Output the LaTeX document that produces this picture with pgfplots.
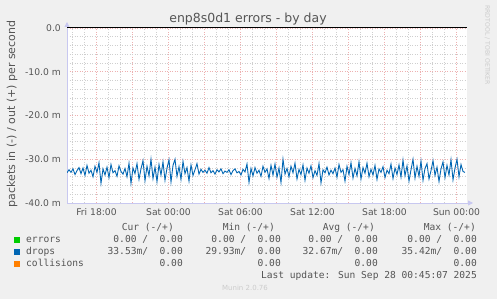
\documentclass[border=0pt]{standalone}
\usepackage{pgfplots}
\pgfplotsset{compat=1.18}
\usepackage{fontspec}
\setmainfont{DejaVu Sans}
\newfontfamily\monofont{DejaVu Sans Mono}
\usetikzlibrary{arrows.meta}
\definecolor{bgcol}{HTML}{F0F0F0}
\definecolor{txtcol}{HTML}{555555}
\definecolor{axcol}{HTML}{C8C8F0}
\definecolor{majcol}{HTML}{EDB0B0}
\definecolor{mincol}{HTML}{CFCFCF}
\definecolor{errcol}{HTML}{00CC00}
\definecolor{dropcol}{HTML}{0066B3}
\definecolor{colcol}{HTML}{FF8000}
\definecolor{faint}{HTML}{CCCCCC}

\pgfplotstableread{
x y
0 -33.1
1 -32.4
2 -33.0
3 -32.2
4 -33.5
5 -32.6
6 -31.9
7 -33.3
8 -32.0
9 -33.7
10 -31.4
11 -33.2
12 -32.5
13 -34.0
14 -31.6
15 -33.0
16 -30.8
17 -35.5
18 -32.2
19 -33.6
20 -31.8
21 -34.2
22 -31.2
23 -33.1
24 -32.6
25 -33.9
26 -31.5
27 -32.8
28 -33.4
29 -32.1
30 -34.0
31 -30.9
32 -35.5
33 -32.0
34 -33.3
35 -31.0
36 -34.6
37 -32.2
38 -30.3
39 -34.9
40 -31.6
41 -33.8
42 -30.0
43 -34.4
44 -31.8
45 -35.1
46 -31.2
47 -33.6
48 -30.6
49 -34.8
50 -32.0
51 -30.1
52 -35.2
53 -31.4
54 -30.0
55 -33.9
56 -31.7
57 -34.6
58 -30.5
59 -33.3
60 -31.9
61 -35.0
62 -31.3
63 -33.7
64 -32.4
65 -31.0
66 -33.4
67 -32.3
68 -33.0
69 -32.5
70 -33.2
71 -31.9
72 -33.1
73 -32.6
74 -33.4
75 -32.4
76 -32.9
77 -32.2
78 -33.3
79 -32.7
80 -33.0
81 -32.4
82 -33.5
83 -32.6
84 -32.2
85 -33.1
86 -32.8
87 -33.6
88 -32.3
89 -32.9
90 -31.1
91 -35.3
92 -32.1
93 -33.8
94 -31.9
95 -33.2
96 -32.5
97 -33.9
98 -31.6
99 -33.0
100 -32.2
101 -34.4
102 -31.4
103 -33.6
104 -31.1
105 -34.1
106 -32.0
107 -35.3
108 -30.0
109 -33.4
110 -32.1
111 -34.0
112 -31.6
113 -33.1
114 -30.9
115 -34.5
116 -32.3
117 -33.5
118 -31.3
119 -34.8
120 -32.0
121 -33.2
122 -31.5
123 -34.2
124 -32.6
125 -33.7
126 -31.0
127 -35.4
128 -32.4
129 -33.1
130 -31.8
131 -33.6
132 -32.5
133 -33.3
134 -32.0
135 -34.1
136 -31.2
137 -33.0
138 -32.4
139 -35.0
140 -31.6
141 -33.5
142 -30.8
143 -34.3
144 -32.1
145 -33.8
146 -30.6
147 -34.5
148 -31.9
149 -33.2
150 -30.9
151 -34.0
152 -32.3
153 -33.6
154 -31.4
155 -34.6
156 -32.2
157 -33.0
158 -31.7
159 -34.2
160 -32.5
161 -33.3
162 -31.1
163 -34.4
164 -32.0
165 -33.5
166 -31.3
167 -34.1
168 -30.2
169 -33.8
170 -31.5
171 -35.0
172 -32.4
173 -30.0
174 -34.3
175 -31.6
176 -33.9
177 -30.4
178 -34.8
179 -32.1
180 -31.0
181 -34.5
182 -32.6
183 -30.3
184 -33.7
185 -31.8
186 -35.1
187 -32.2
188 -30.6
189 -34.2
190 -31.4
191 -33.6
192 -30.1
193 -34.7
194 -32.0
195 -30.0
196 -34.0
197 -31.2
198 -32.8
199 -33.0
}\drops

\begin{document}
\begin{tikzpicture}[x=1pt,y=1pt]
\fill[bgcol] (0,0) rectangle (497,299);
\begin{axis}[
  at={(67pt,96pt)}, anchor=south west,
  scale only axis, width=400pt, height=175pt,
  xmin=0, xmax=200, ymin=-40, ymax=0,
  axis lines=left,
  axis background/.style={fill=white},
  axis line style={draw=axcol, line width=0.8pt},
  x axis line style={-{Triangle[length=5pt,width=5pt]}, shorten >=-6pt},
  y axis line style={-{Triangle[length=5pt,width=5pt]}, shorten >=-6pt},
  xtick={14.75,32.75,50.75,68.75,86.75,104.75,122.75,140.75,158.75,176.75,194.75},
  xticklabels={Fri 18:00,,Sat 00:00,,Sat 06:00,,Sat 12:00,,Sat 18:00,,Sun 00:00},
  minor xtick={2.75,8.75,20.75,26.75,38.75,44.75,56.75,62.75,74.75,80.75,92.75,98.75,110.75,116.75,128.75,134.75,146.75,152.75,164.75,170.75,182.75,188.75},
  ytick={-40,-30,-20,-10,0},
  yticklabels={-40.0 m,-30.0 m,-20.0 m,-10.0 m,0.0},
  minor ytick={-38,-36,-34,-32,-28,-26,-24,-22,-18,-16,-14,-12,-8,-6,-4,-2},
  major tick length=0pt, minor tick length=0pt,
  grid=both,
  major grid style={draw=majcol, dash pattern=on 1pt off 1.5pt, line width=0.5pt},
  minor grid style={draw=mincol, dash pattern=on 1pt off 1.5pt, line width=0.5pt},
  yticklabel style={font=\fontsize{9.2}{10}\selectfont, text=txtcol, inner sep=0pt, anchor=east, xshift=-6pt},
  xticklabel style={font=\fontsize{9.2}{10}\selectfont, text=txtcol, inner sep=0pt, anchor=north, yshift=-5pt},
]
\addplot[draw=dropcol, line width=0.9pt, mark=none] table[x=x,y=y] {\drops};
\addplot[draw=black, line width=1pt, mark=none] coordinates {(0,0) (200,0)};
\end{axis}
% title
\node[font=\fontsize{12.5}{14}\selectfont, text=txtcol] at (248,280) {enp8s0d1 errors - by day};
% y label
\node[font=\fontsize{11}{13}\selectfont, text=txtcol, rotate=90] at (12,185) {packets in (-) / out (+) per second};
% rrdtool credit
\node[font=\fontsize{6.2}{7}\selectfont, text=faint, rotate=-90, anchor=west, inner sep=0pt] at (487.5,294) {RRDTOOL / TOBI OETIKER};
% legend
\begin{scope}[every node/.style={font=\monofont\fontsize{9.6}{11}\selectfont, text=txtcol, inner sep=0pt}]
\node[anchor=base east] at (174,68.5) {Cur (-/+)};
\node[anchor=base east] at (275,68.5) {Min (-/+)};
\node[anchor=base east] at (375,68.5) {Avg (-/+)};
\node[anchor=base east] at (476,68.5) {Max (-/+)};
\fill[errcol] (14,56) rectangle (20,62);
\fill[dropcol] (14,44) rectangle (20,50);
\fill[colcol] (14,32) rectangle (20,38);
\node[anchor=base west] at (26,56.5) {errors};
\node[anchor=base west] at (26,44.5) {drops};
\node[anchor=base west] at (26,32.5) {collisions};
\node[anchor=base east] at (183,56.5) {0.00 /\ \ 0.00};
\node[anchor=base east] at (281,56.5) {0.00 /\ \ 0.00};
\node[anchor=base east] at (378,56.5) {0.00 /\ \ 0.00};
\node[anchor=base east] at (477,56.5) {0.00 /\ \ 0.00};
\node[anchor=base east] at (183,44.5) {33.53m/\ \ 0.00};
\node[anchor=base east] at (281,44.5) {29.93m/\ \ 0.00};
\node[anchor=base east] at (378,44.5) {32.67m/\ \ 0.00};
\node[anchor=base east] at (477,44.5) {35.42m/\ \ 0.00};
\node[anchor=base east] at (183,32.5) {0.00};
\node[anchor=base east] at (281,32.5) {0.00};
\node[anchor=base east] at (378,32.5) {0.00};
\node[anchor=base east] at (477,32.5) {0.00};
\node[anchor=base east] at (477,20.5) {Last update: Sun Sep 28 00:45:07 2025};
\end{scope}
\node[font=\fontsize{7}{8}\selectfont, text=faint] at (245,11) {Munin 2.0.76};
\end{tikzpicture}
\end{document}
